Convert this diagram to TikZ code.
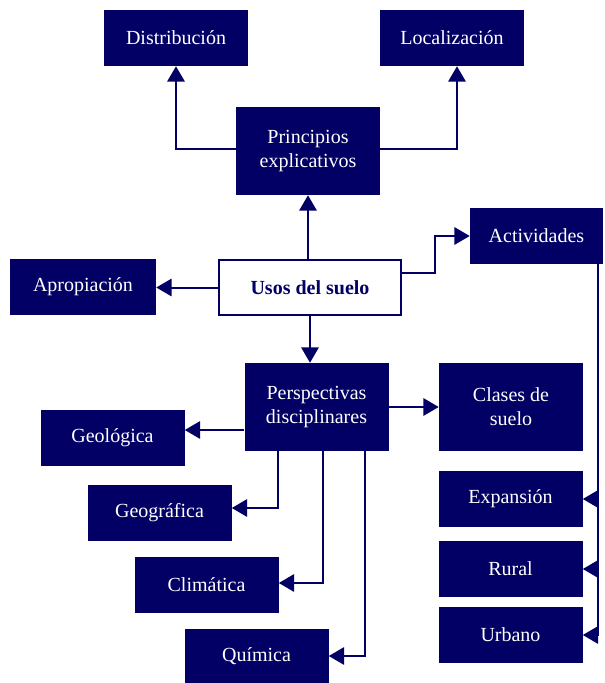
\documentclass[tikz,border=0pt]{standalone}
\usepackage{fontspec}
\setmainfont{Liberation Serif}
\usetikzlibrary{arrows.meta}
\definecolor{navy}{RGB}{2,0,100}
\tikzset{
  box/.style={fill=navy, text=white, inner sep=0pt, align=center,
    minimum width=108pt, minimum height=42pt, font=\fontsize{15}{18}\selectfont},
  tallbox/.style={box, minimum height=66pt},
  centerbox/.style={draw=navy, line width=1.4pt, fill=white, text=navy, inner sep=0pt,
    minimum width=137pt, minimum height=41pt, font=\fontsize{15}{18}\selectfont\bfseries},
  conn/.style={draw=navy, line width=1.5pt},
  arr/.style={conn, -{Triangle[length=11.5pt,width=13pt]}},
}
\begin{document}
\begin{tikzpicture}[x=0.75pt,y=-0.75pt]
\useasboundingbox (0,0) rectangle (605,683);
\node[box] (dist) at (176,38) {Distribución};
\node[box] (loc) at (452,38) {Localización};
\node[tallbox] (prin) at (308,151) {Principios\\explicativos};
\node[box, minimum width=99.75pt] (act) at (536.5,236) {Actividades};
\node[box, minimum width=109.5pt] (apro) at (83,287) {Apropiación};
\node[centerbox] (usos) at (310,287.5) {Usos del suelo};
\node[tallbox] (persp) at (316.5,407) {Perspectivas\\disciplinares};
\node[tallbox] (clases) at (511,407) {Clases de\\suelo};
\node[box] (geol) at (112.5,438) {Geológica};
\node[box] (geog) at (159.5,513) {Geográfica};
\node[box] (clim) at (206.5,585) {Climática};
\node[box, minimum height=40.5pt] (quim) at (256.5,656) {Química};
\node[box] (exp) at (510.5,499) {Expansión};
\node[box] (rur) at (510.5,569) {Rural};
\node[box] (urb) at (510.5,635) {Urbano};
% Principios connectors
\draw[arr] ([yshift=1.5pt]prin.west) -| (dist.south);
\draw[arr] ([yshift=1.5pt]prin.east) -| ([xshift=3.75pt]loc.south);
% Usos connectors
\draw[arr] (usos.north -| prin.south) -- (prin.south);
\draw[arr] (usos.west) -- (usos.west -| apro.east);
\draw[arr] ([yshift=11.25pt]usos.east) -- ++(33,0) |- (act.west);
\draw[arr] (usos.south) -- (usos.south |- persp.north);
% Perspectivas connectors
\coordinate (g1) at ([yshift=-17.25pt]persp.west);
\draw[arr] (g1) -- (g1 -| geol.east);
\coordinate (p1) at ([xshift=-29pt]persp.south);
\draw[arr] (p1) |- ([yshift=3.75pt]geog.east);
\coordinate (p2) at ([xshift=4.5pt]persp.south);
\draw[arr] (p2) |- ([yshift=1.5pt]clim.east);
\coordinate (p3) at ([xshift=36pt]persp.south);
\draw[arr] (p3) |- (quim.east);
\draw[arr] (persp.east) -- (clases.west);
% Actividades connectors
\coordinate (a1) at ([xshift=-3.75pt]act.south east);
\draw[arr] (a1) |- (urb.east);
\draw[arr] (a1 |- exp.east) -- (exp.east);
\draw[arr] (a1 |- rur.east) -- (rur.east);
\end{tikzpicture}
\end{document}
